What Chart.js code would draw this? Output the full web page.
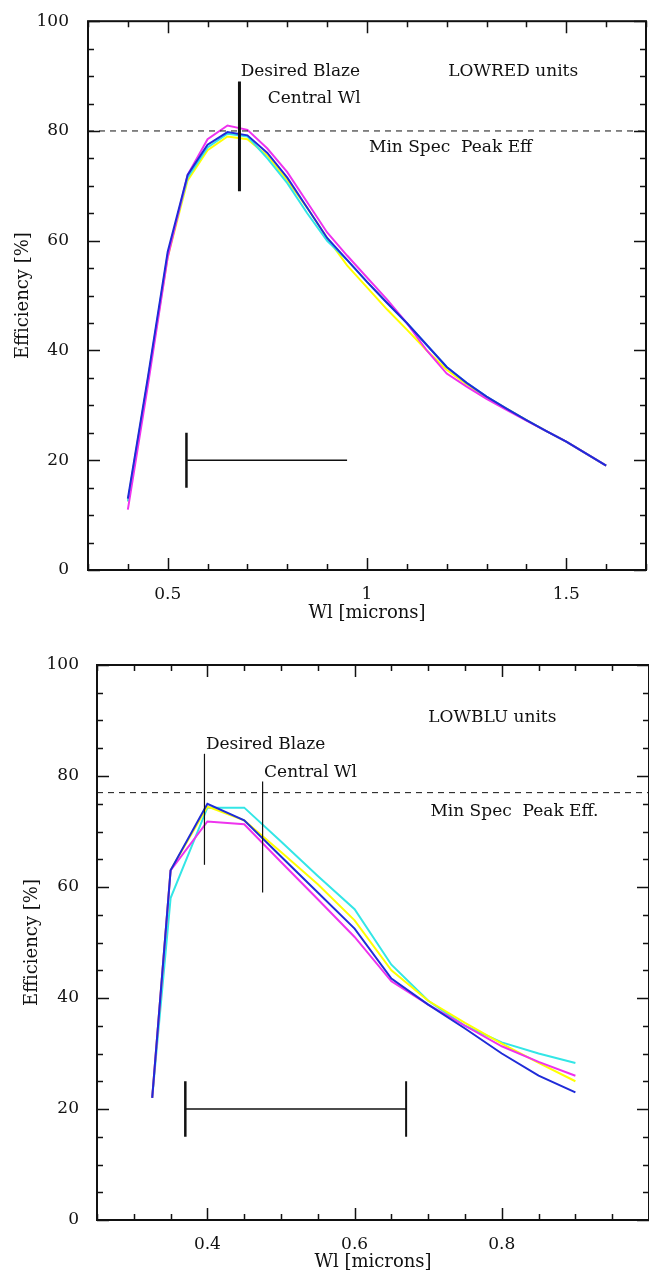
<!DOCTYPE html>
<html>
<head>
<meta charset="utf-8">
<title>LOWRED / LOWBLU grating efficiency</title>
<script src="https://cdn.jsdelivr.net/npm/chart.js@4.4.1/dist/chart.umd.min.js"></script>
<style>
  html, body { margin: 0; padding: 0; background: #fff; overflow: hidden; }
  canvas { display: block; }
</style>
</head>
<body>
<canvas id="redChart" width="649" height="640"></canvas>
<canvas id="bluChart" width="649" height="637"></canvas>
<script>
// ---------------------------------------------------------------------------
// Efficiency curves of the LOWRED (top) and LOWBLU (bottom) grating units.
// Values, in % against wavelength in microns.
// ---------------------------------------------------------------------------

const yTickLabels = [0, 20, 40, 60, 80, 100];

// --- LOWRED units ----------------------------------------------------------
const redWl = [0.4, 0.45, 0.5, 0.55, 0.6, 0.65, 0.7, 0.75, 0.8, 0.85, 0.9, 0.95, 1.0,
  1.05, 1.1, 1.15, 1.2, 1.25, 1.3, 1.35, 1.4, 1.45, 1.5, 1.55, 1.6];
const redYellow = [12.5, 34.5, 57, 71, 76.5, 79, 78.5, 75.5, 71, 66, 60.5, 55.5, 51.5,
  47.5, 43.8, 40, 36.5, 33.8, 31.5, 29.4, 27.3, 25.3, 23.4, 21.2, 19];
const redCyan = [12.5, 34.5, 57.5, 71.5, 77, 79.5, 79, 75, 70.5, 65, 60, 56.5, 52.5,
  48.7, 45, 41, 37, 34.1, 31.6, 29.4, 27.3, 25.3, 23.4, 21.2, 19];
const redMagenta = [11, 33.5, 57, 72, 78.5, 81, 80.2, 76.8, 72.5, 67, 61.5, 57.3, 53.3,
  49.3, 45, 40, 35.8, 33.4, 31.2, 29.2, 27.2, 25.3, 23.4, 21.2, 19];
const redBlue = [13, 35, 58, 72, 77.5, 79.8, 79.2, 76, 71.5, 66, 60.5, 56.5, 52.5,
  48.7, 45, 41, 37, 34.1, 31.6, 29.4, 27.3, 25.3, 23.4, 21.2, 19];
const redXLabels = [0.5, 1, 1.5];
const redPeakSpec = 80;
const redBlazeWl = 0.68;
const redBlazeSpan = [69, 89];
const redRange = [0.547, 0.95];

// --- LOWBLU units ----------------------------------------------------------
const bluWl = [0.325, 0.35, 0.4, 0.45, 0.5, 0.55, 0.6, 0.65, 0.7, 0.75, 0.8, 0.85, 0.9];
const bluYellow = [22, 63, 74.5, 72, 66.3, 60.5, 54, 45, 39.5, 35.5, 31.8, 28.3, 25];
const bluCyan = [22, 58, 74.3, 74.3, 68.2, 62, 56, 46, 39.5, 35, 32, 30, 28.3];
const bluMagenta = [22, 63, 71.8, 71.3, 64.5, 57.8, 51, 43, 38.8, 35, 31.3, 28.5, 26];
const bluBlue = [22, 63, 75, 72, 65.5, 59, 52.5, 43.5, 38.8, 34.5, 30, 26, 23];
const bluXLabels = [0.4, 0.6, 0.8];
const bluPeakSpec = 77;
const bluBlazeWl = 0.396;
const bluBlazeSpan = [64, 84];
const bluCentralWl = 0.475;
const bluCentralSpan = [59, 79];
const bluRange = [0.37, 0.67];

const rangeLevel = 20;
const capSpan = [15, 25];

const COLORS = { yellow: "#ffff00", cyan: "#33e6e6", magenta: "#ee33ee", blue: "#1f2bd8", ink: "#111" };
const SERIF = "'DejaVu Serif', 'Liberation Serif', serif";

// ---------------------------------------------------------------------------

function stepValues(min, max, step) {
  const out = [];
  const n = Math.round((max - min) / step);
  for (let i = 0; i <= n; i++) out.push(+(min + i * step).toFixed(4));
  return out;
}

function inList(v, list) {
  return list.some((l) => Math.abs(l - v) < 1e-6);
}

function curve(xs, ys, color) {
  return {
    data: xs.map((x, i) => ({ x, y: ys[i] })),
    borderColor: color,
    borderWidth: 2,
    pointRadius: 0,
    showLine: true,
    tension: 0,
  };
}

function segment(x0, y0, x1, y1, width, dash) {
  return {
    data: [{ x: x0, y: y0 }, { x: x1, y: y1 }],
    borderColor: COLORS.ink,
    borderWidth: width,
    borderDash: dash || [],
    pointRadius: 0,
    showLine: true,
  };
}

// frame round the plot area, with inward major / minor ticks on all sides
const frameTicks = {
  id: "frameTicks",
  afterDraw(chart, args, opts) {
    const { ctx, chartArea: a } = chart;
    const xs = chart.scales.x;
    const ys = chart.scales.y;
    ctx.save();
    ctx.strokeStyle = COLORS.ink;
    ctx.lineWidth = 1.5;
    xs.ticks.forEach((t) => {
      const px = Math.round(xs.getPixelForValue(t.value)) + 0.5;
      const len = inList(t.value, opts.xMajor) ? 12 : 6;
      ctx.beginPath();
      ctx.moveTo(px, a.bottom); ctx.lineTo(px, a.bottom - len);
      ctx.moveTo(px, a.top); ctx.lineTo(px, a.top + len);
      ctx.stroke();
    });
    ys.ticks.forEach((t) => {
      const py = Math.round(ys.getPixelForValue(t.value)) + 0.5;
      const len = inList(t.value, yTickLabels) ? 12 : 6;
      ctx.beginPath();
      ctx.moveTo(a.left, py); ctx.lineTo(a.left + len, py);
      ctx.moveTo(a.right, py); ctx.lineTo(a.right - len, py);
      ctx.stroke();
    });
    ctx.lineWidth = 2;
    ctx.strokeRect(a.left, a.top, a.right - a.left, a.bottom - a.top);
    ctx.restore();
  },
};

// text notes placed in data coordinates
const notes = {
  id: "notes",
  afterDatasetsDraw(chart, args, opts) {
    const { ctx } = chart;
    const xs = chart.scales.x;
    const ys = chart.scales.y;
    ctx.save();
    ctx.fillStyle = COLORS.ink;
    ctx.font = "17px " + SERIF;
    ctx.textAlign = "left";
    ctx.textBaseline = "middle";
    (opts.items || []).forEach((n) => {
      ctx.fillText(n.text, xs.getPixelForValue(n.x), ys.getPixelForValue(n.y));
    });
    ctx.restore();
  },
};

function buildChart(canvasId, cfg) {
  const el = document.getElementById(canvasId);
  return new Chart(el.getContext("2d"), {
    type: "scatter",
    data: { datasets: cfg.datasets },
    options: {
      responsive: false,
      animation: false,
      events: [],
      layout: { padding: cfg.padding },
      plugins: {
        legend: { display: false },
        tooltip: { enabled: false },
        frameTicks: { xMajor: cfg.xLabels },
        notes: { items: cfg.notes },
      },
      scales: {
        x: {
          type: "linear",
          min: cfg.xMin,
          max: cfg.xMax,
          grid: { display: false },
          border: { display: false },
          afterBuildTicks: (s) => { s.ticks = stepValues(cfg.xMin, cfg.xMax, cfg.xStep).map((v) => ({ value: v })); },
          afterFit: (s) => { s.height = cfg.xAxisHeight; },
          ticks: {
            autoSkip: false,
            maxRotation: 0,
            padding: 0,
            color: COLORS.ink,
            // tall line box puts the label centre 17px under the axis
            font: { family: SERIF, size: 17, lineHeight: "34px" },
            callback: (v) => (inList(v, cfg.xLabels) ? String(v) : ""),
          },
          title: {
            display: true,
            text: "Wl [microns]",
            color: COLORS.ink,
            font: { family: SERIF, size: 18 },
            padding: { top: 0, bottom: cfg.xTitlePad },
          },
        },
        y: {
          type: "linear",
          min: 0,
          max: 100,
          grid: { display: false },
          border: { display: false },
          afterBuildTicks: (s) => { s.ticks = stepValues(0, 100, 5).map((v) => ({ value: v })); },
          afterFit: (s) => { s.width = cfg.yAxisWidth; },
          ticks: {
            autoSkip: false,
            padding: cfg.yTickPad,
            color: COLORS.ink,
            font: { family: SERIF, size: 17 },
            callback: (v) => (inList(v, yTickLabels) ? String(v) : ""),
          },
          title: {
            display: true,
            text: "Efficiency [%]",
            color: COLORS.ink,
            font: { family: SERIF, size: 18 },
            padding: { top: cfg.yTitlePad, bottom: 0 },
          },
        },
      },
    },
    plugins: [frameTicks, notes],
  });
}

// --- top: LOWRED -----------------------------------------------------------
buildChart("redChart", {
  xMin: 0.3, xMax: 1.7, xStep: 0.1,
  xLabels: redXLabels,
  padding: { top: 11.5, right: 3, left: 0, bottom: 0 },
  xAxisHeight: 70, xTitlePad: 16,
  yAxisWidth: 88, yTickPad: 11, yTitlePad: 13,
  datasets: [
    segment(redBlazeWl, redBlazeSpan[0], redBlazeWl, redBlazeSpan[1], 3),
    segment(0.3, redPeakSpec, 1.7, redPeakSpec, 1, [6, 5]),
    segment(redRange[0], rangeLevel, redRange[1], rangeLevel, 1.5),
    segment(redRange[0], capSpan[0], redRange[0], capSpan[1], 2.5),
    curve(redWl, redBlue, COLORS.blue),
    curve(redWl, redMagenta, COLORS.magenta),
    curve(redWl, redCyan, COLORS.cyan),
    curve(redWl, redYellow, COLORS.yellow),
  ],
  notes: [
    { text: "Desired Blaze", x: 0.683, y: 90.8 },
    { text: "Central Wl", x: 0.751, y: 85.9 },
    { text: "LOWRED units", x: 1.204, y: 90.8 },
    { text: "Min Spec  Peak Eff", x: 1.005, y: 77 },
  ],
});

// --- bottom: LOWBLU --------------------------------------------------------
buildChart("bluChart", {
  xMin: 0.25, xMax: 1.0, xStep: 0.05,
  xLabels: bluXLabels,
  padding: { top: 25, right: 0, left: 0, bottom: 0 },
  xAxisHeight: 57, xTitlePad: 4,
  yAxisWidth: 97, yTickPad: 10, yTitlePad: 22,
  datasets: [
    segment(bluBlazeWl, bluBlazeSpan[0], bluBlazeWl, bluBlazeSpan[1], 1.2),
    segment(bluCentralWl, bluCentralSpan[0], bluCentralWl, bluCentralSpan[1], 1.2),
    segment(0.25, bluPeakSpec, 1.0, bluPeakSpec, 1, [6, 5]),
    segment(bluRange[0], rangeLevel, bluRange[1], rangeLevel, 1.5),
    segment(bluRange[0], capSpan[0], bluRange[0], capSpan[1], 2.5),
    segment(bluRange[1], capSpan[0], bluRange[1], capSpan[1], 2),
    curve(bluWl, bluBlue, COLORS.blue),
    curve(bluWl, bluMagenta, COLORS.magenta),
    curve(bluWl, bluYellow, COLORS.yellow),
    curve(bluWl, bluCyan, COLORS.cyan),
  ],
  notes: [
    { text: "LOWBLU units", x: 0.700, y: 90.6 },
    { text: "Desired Blaze", x: 0.398, y: 85.6 },
    { text: "Central Wl", x: 0.477, y: 80.7 },
    { text: "Min Spec  Peak Eff.", x: 0.703, y: 73.5 },
  ],
});
</script>
</body>
</html>
